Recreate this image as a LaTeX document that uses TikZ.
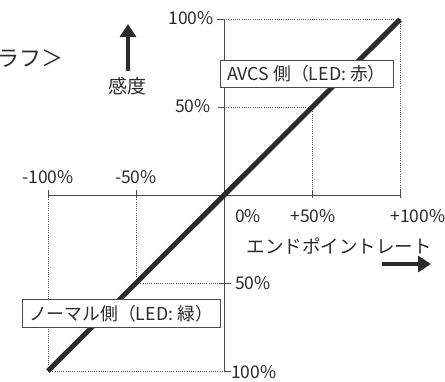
\documentclass[tikz,border=0pt]{standalone}
\usepackage{fontspec}
\setmainfont{Noto Sans CJK JP}
\usetikzlibrary{arrows.meta}
\definecolor{ink}{HTML}{2B2B2B}
\definecolor{axisc}{HTML}{4A4A4A}
\definecolor{dotc}{HTML}{555555}
\begin{document}
\begin{tikzpicture}[x=1pt,y=-1pt,
  lab/.style={font=\fontsize{17.5}{17.5}\selectfont, text=ink, inner sep=0pt},
  jlab/.style={font=\fontsize{18.5}{18.5}\selectfont, text=ink, inner sep=0pt},
  axisline/.style={draw=axisc, line width=1pt},
  guide/.style={draw=dotc, line width=0.9pt, dash pattern=on 0.9pt off 1.3pt},
  tag/.style={draw=axisc, line width=0.9pt, fill=white, font=\fontsize{17.8}{17.8}\selectfont, text=ink, inner sep=0pt, minimum height=27.5pt},
  bigarrow/.style={draw=ink, line width=3.6pt, -{Triangle[length=13pt,width=16pt]}}
]
\useasboundingbox (0,0) rectangle (445,381);
% axis coordinates
\coordinate (O) at (224,195);
\coordinate (T100) at (224,19.5);
\coordinate (T50) at (224,107);
\coordinate (B50) at (224,283);
\coordinate (B100) at (224,371);
\coordinate (L100) at (48,195);
\coordinate (L50) at (136,195);
\coordinate (R50) at (312,195);
\coordinate (R100) at (400,195);
\coordinate (TR) at (400,19.5);
\coordinate (M50) at (312,107);
\coordinate (BL) at (48,371);
\coordinate (N50) at (136,283);
% guides
\draw[guide] (T100) -- (TR) -- (R100);
\draw[guide] (T50) -- (M50) -- (R50);
\draw[guide] (L100) -- (BL) -- (B100);
\draw[guide] (L50) -- (N50) -- (B50);
% axes
\draw[axisline] (T100) -- (B100);
\draw[axisline] (L100) -- (R100);
% ticks
\coordinate (tk1) at (217,19.5);
\coordinate (tk2) at (218,107);
\coordinate (tk3a) at (219,283);
\coordinate (tk3b) at (231,283);
\coordinate (tk4) at (231,371);
\draw[axisline] (tk1) -- (T100);
\draw[axisline] (tk2) -- (T50);
\draw[axisline] (tk3a) -- (tk3b);
\draw[axisline] (B100) -- (tk4);
\foreach \x/\n in {48/a,136/b,312/c,400/d}{
  \coordinate (ht\n1) at (\x,190);
  \coordinate (ht\n2) at (\x,198);
  \draw[axisline] (ht\n1) -- (ht\n2);
}
% main line
\draw[draw=ink, line width=5pt] (BL) -- (TR);
% labels
\node[lab, anchor=east] (y100) at (214,18) {100\%};
\node[lab, anchor=east] (y50) at (211,106.5) {50\%};
\node[lab, anchor=west] (yn50) at (235,283.5) {50\%};
\node[lab, anchor=west] (yn100) at (231,372) {100\%};
\node[lab] (xm100) at (48,177.5) {-100\%};
\node[lab] (xm50) at (136,177.5) {-50\%};
\node[lab] (x0) at (248,216.5) {0\%};
\node[lab] (x50) at (313,216.5) {+50\%};
\node[lab] (x100) at (418,216.5) {+100\%};
\node[jlab] (xt) at (339,246.5) {エンドポイントレート};
\node[jlab, font=\fontsize{19}{19}\selectfont] (yt) at (127.5,86) {感度};
\node[jlab, font=\fontsize{22}{22}\selectfont, anchor=east] (title) at (64,59) {ラフ＞};
% arrows
\coordinate (ra1) at (382,264);
\coordinate (ra2) at (431,264);
\draw[bigarrow] (ra1) -- (ra2);
\coordinate (ua1) at (128,71);
\coordinate (ua2) at (128,24);
\draw[bigarrow] (ua1) -- (ua2);
% tags
\node[tag, minimum width=173pt] (avcs) at (306.5,74) {AVCS 側（LED: 赤）};
\node[tag, minimum width=198pt] (normal) at (121,313.5) {ノーマル側（LED: 緑）};
\end{tikzpicture}
\end{document}
